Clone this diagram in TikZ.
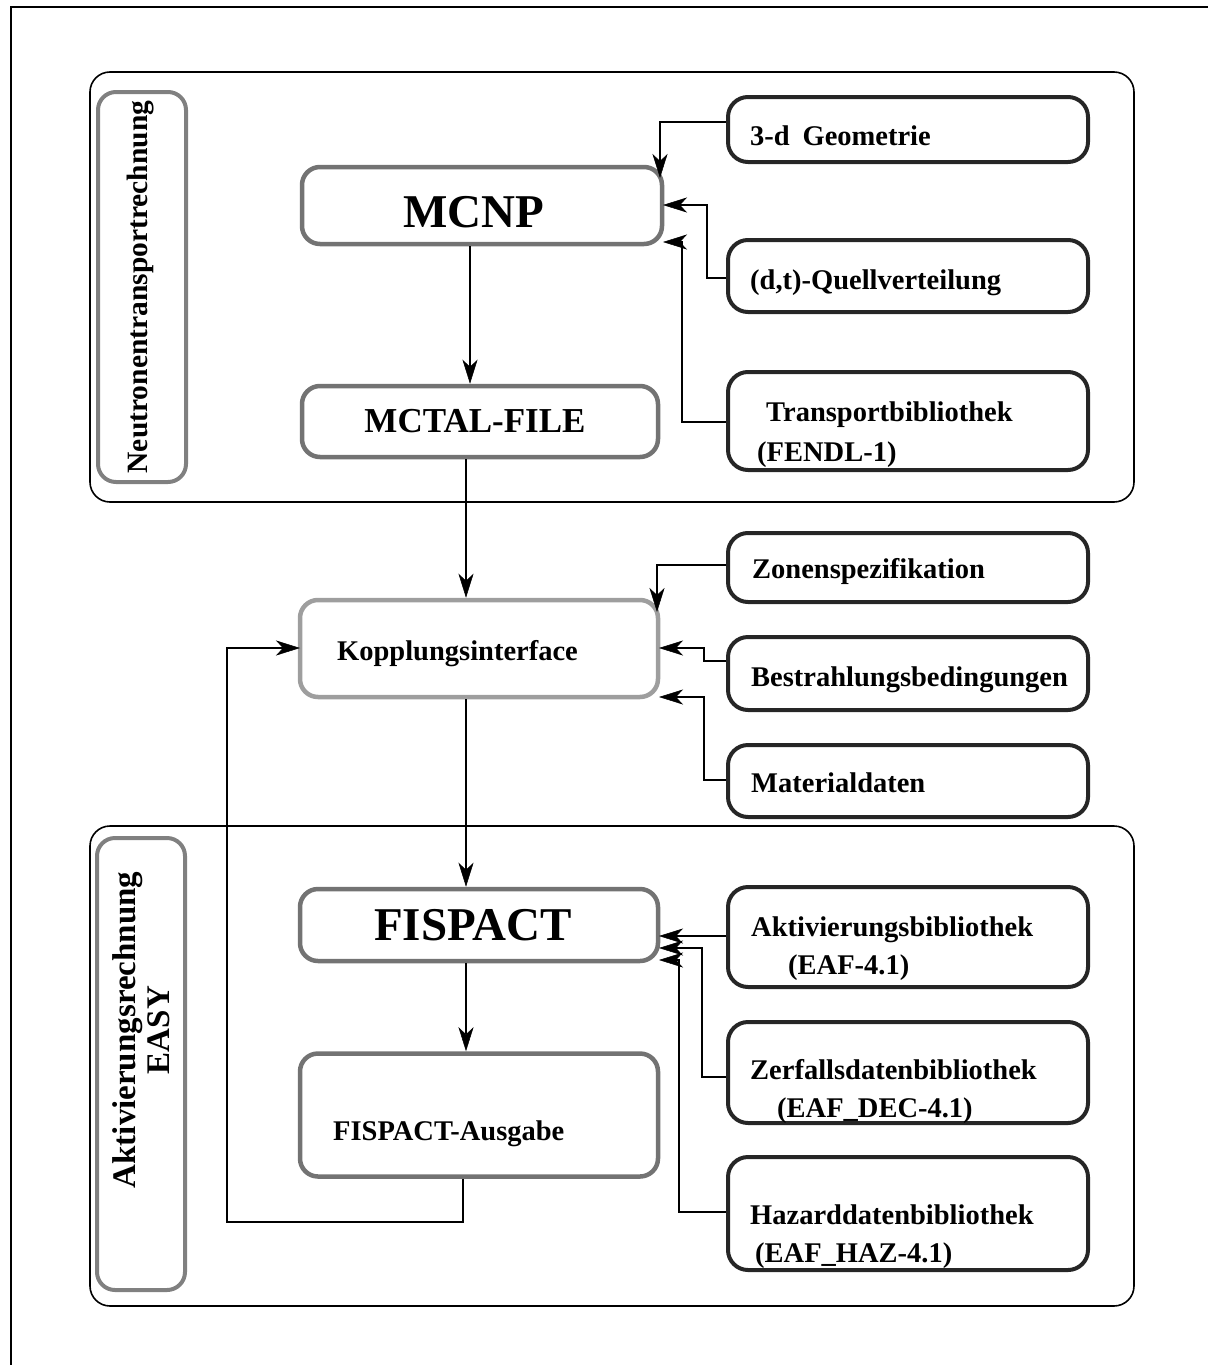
\documentclass[tikz,border=0pt]{standalone}
\usepackage{fontspec}
\setmainfont{Liberation Serif}
\usetikzlibrary{arrows.meta}
\tikzset{
  grpbox/.style={draw=black, line width=1.6pt, rounded corners=20pt},
  framel/.style={draw=black, line width=1.4pt},
  lbox/.style={draw=black!55, line width=4.5pt, rounded corners=18pt, inner sep=0pt, minimum width=358pt},
  kbox/.style={lbox, draw=black!38},
  rbox/.style={draw=black!85, line width=4pt, rounded corners=20pt, inner sep=0pt, minimum width=360pt},
  tagbox/.style={draw=black!50, line width=4pt, rounded corners=18pt, inner sep=0pt, minimum width=88pt},
  txt/.style={inner sep=0pt, font=\bfseries\fontsize{28.5}{33}\selectfont},
  bigtxt/.style={inner sep=0pt, font=\bfseries\fontsize{47}{50}\selectfont},
  midtxt/.style={inner sep=0pt, font=\bfseries\fontsize{35}{40}\selectfont},
  conn/.style={draw=black, line width=1.5pt, -{Stealth[length=24pt,width=15pt,inset=7pt,line width=0.5pt]}},
}
\begin{document}
\begin{tikzpicture}[x=1pt,y=-1pt]
\useasboundingbox (0,0) rectangle (1208,1365);
% outer frame (only left and top visible)
\draw[framel] (11,1365) -- (11,7) -- (1208,7);
% group boxes
\draw[grpbox] (90,72) rectangle (1134,502);
\draw[grpbox] (90,826) rectangle (1134,1306);
% tag boxes
\node[tagbox, minimum height=390pt] (tagN) at (142,287) {};
\node[txt, rotate=90, font=\bfseries\fontsize{29.5}{33}\selectfont] (tagNt) at (141,287) {Neutronentransportrechnung};
\node[tagbox, minimum height=452pt] (tagA) at (141,1064) {};
\node[txt, rotate=90, align=center, font=\bfseries\fontsize{33}{34}\selectfont] (tagAt) at (141,1030) {Aktivierungsrechnung\\EASY};
% left column
\node[lbox, minimum width=360pt, minimum height=77pt] (mcnp) at (482,205.5) {};
\node[bigtxt, anchor=base] (mcnpt) at (474,227) {MCNP};
\node[lbox, minimum width=356pt, minimum height=71pt] (mctal) at (480,421.5) {};
\node[midtxt, anchor=base] (mctalt) at (475,432) {MCTAL-FILE};
\node[kbox, minimum height=97pt] (kopp) at (479,648.5) {};
\node[txt, anchor=base west] (koppt) at (337,660) {Kopplungsinterface};
\node[lbox, minimum height=72pt] (fis) at (479,925) {};
\node[bigtxt, anchor=base] (fist) at (473,940) {FISPACT};
\node[lbox, minimum height=123pt] (aus) at (479,1115) {};
\node[txt, anchor=base west] (aust) at (333,1140) {FISPACT-Ausgabe};
% right column
\node[rbox, minimum height=65pt] (geo) at (908,129.5) {};
\node[txt, anchor=base west] (geot) at (750,145) {3-d\hspace{0.45em}Geometrie};
\node[rbox, minimum height=72pt] (dt) at (908,276) {};
\node[txt, anchor=base west] (dtt) at (750,289) {(d,t)-Quellverteilung};
\node[rbox, minimum height=98pt] (trans) at (908,421) {};
\node[txt, anchor=base west] (transt1) at (766,421) {Transportbibliothek};
\node[txt, anchor=base west] (transt2) at (757,461) {(FENDL-1)};
\node[rbox, minimum height=69pt] (zon) at (908,567.5) {};
\node[txt, anchor=base west] (zont) at (752,578) {Zonenspezifikation};
\node[rbox, minimum height=73pt] (bes) at (908,673.5) {};
\node[txt, anchor=base west] (best) at (751,686) {Bestrahlungsbedingungen};
\node[rbox, minimum height=72pt] (mat) at (908,781) {};
\node[txt, anchor=base west] (matt) at (751,792) {Materialdaten};
\node[rbox, minimum height=100pt] (akt) at (908,937) {};
\node[txt, anchor=base west] (aktt1) at (751,936) {Aktivierungsbibliothek};
\node[txt, anchor=base west] (aktt2) at (788,974) {(EAF-4.1)};
\node[rbox, minimum height=101pt] (zer) at (908,1072.5) {};
\node[txt, anchor=base west] (zert1) at (750,1079) {Zerfallsdatenbibliothek};
\node[txt, anchor=base west] (zert2) at (777,1117) {(EAF\_DEC-4.1)};
\node[rbox, minimum height=113pt] (haz) at (908,1213.5) {};
\node[txt, anchor=base west] (hazt1) at (750,1224) {Hazarddatenbibliothek};
\node[txt, anchor=base west] (hazt2) at (755,1262) {(EAF\_HAZ-4.1)};
% arrow end coordinates
\coordinate (mcnpA) at (660,178);
\coordinate (mcnpB) at (663,205);
\coordinate (mcnpC) at (663,242);
\coordinate (koppA) at (657,612);
\coordinate (koppB) at (659,648);
\coordinate (koppC) at (659,697);
\coordinate (koppL) at (300,648);
\coordinate (fisA) at (659,936);
\coordinate (fisB) at (659,948);
\coordinate (fisC) at (659,960);
% connectors
\draw[conn] (geo.west |- 0,122) -| (mcnpA);
\draw[conn] (dt.west |- 0,278) -- (707,278) |- (mcnpB);
\draw[conn] (trans.west |- 0,422) -- (682,422) |- (mcnpC);
\draw[conn] (mcnp.south -| 470,0) -- (mctal.north -| 470,0);
\draw[conn] (mctal.south -| 466,0) -- (kopp.north -| 466,0);
\draw[conn] (zon.west |- 0,565) -| (koppA);
\draw[conn] (bes.west |- 0,661) -- (704,661) |- (koppB);
\draw[conn] (mat.west |- 0,780) -- (704,780) |- (koppC);
\draw[conn] (kopp.south -| 466,0) -- (fis.north -| 466,0);
\draw[conn] (fis.south -| 466,0) -- (aus.north -| 466,0);
\draw[conn] (aus.south -| 463,0) -- (463,1222) -- (227,1222) |- (koppL);
\draw[conn] (akt.west |- 0,936) -- (fisA);
\draw[conn] (zer.west |- 0,1077) -- (702,1077) |- (fisB);
\draw[conn] (haz.west |- 0,1212) -- (679,1212) |- (fisC);
\end{tikzpicture}
\end{document}
